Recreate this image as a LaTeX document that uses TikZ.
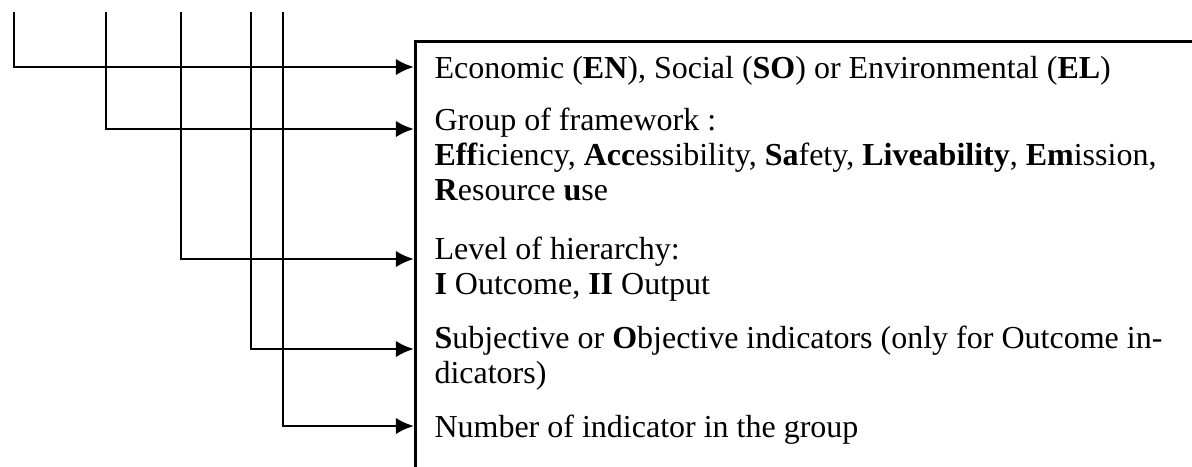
\documentclass[tikz,border=0pt]{standalone}
\usepackage{fontspec}
\setmainfont{Liberation Serif}
\usetikzlibrary{arrows.meta}

\tikzset{
  field/.style={anchor=base west, inner sep=0pt, align=left,
    font=\fontsize{12}{13.1}\selectfont},
  pointer/.style={line width=1.1pt, -{Latex[length=6.8pt,width=6.2pt]}},
}

\begin{document}
\begin{tikzpicture}[x=0.375pt,y=-0.375pt]
  \useasboundingbox (0,0) rectangle (1192,466);
  % frame that holds the descriptions
  \node[draw, line width=1pt, inner sep=0pt, anchor=north west,
    minimum width=340pt, minimum height=190pt] (frame) at (414,40) {};
  % tops of the code lines
  \foreach \name/\x in {c1/14, c2/106, c3/181, c4/251, c5/283}
    \coordinate (\name) at (\x,12);
  % descriptions (a node sits on the baseline of its last line)
  \node[field] (econ) at (434,78) {Economic (\textbf{EN}), Social (\textbf{SO}) or Environmental (\textbf{EL})};
  \node[field] (group) at (434,200) {Group of framework :\\
    \textbf{Eff}iciency, \textbf{Acc}essibility, \textbf{Sa}fety, \textbf{Liveability}, \textbf{Em}ission,\\
    \textbf{R}esource \textbf{u}se};
  \node[field] (level) at (434,294) {Level of hierarchy:\\
    \textbf{I} Outcome, \textbf{II} Output};
  \node[field] (subj) at (434,383) {\textbf{S}ubjective or \textbf{O}bjective indicators (only for Outcome in-\\
    dicators)};
  \node[field] (number) at (434,437) {Number of indicator in the group};
  % connectors
  \foreach \src/\y in {c1/67, c2/129, c3/259, c4/349, c5/426}
    \draw[pointer] (\src) |- (frame.west |- 0,\y);
\end{tikzpicture}
\end{document}
